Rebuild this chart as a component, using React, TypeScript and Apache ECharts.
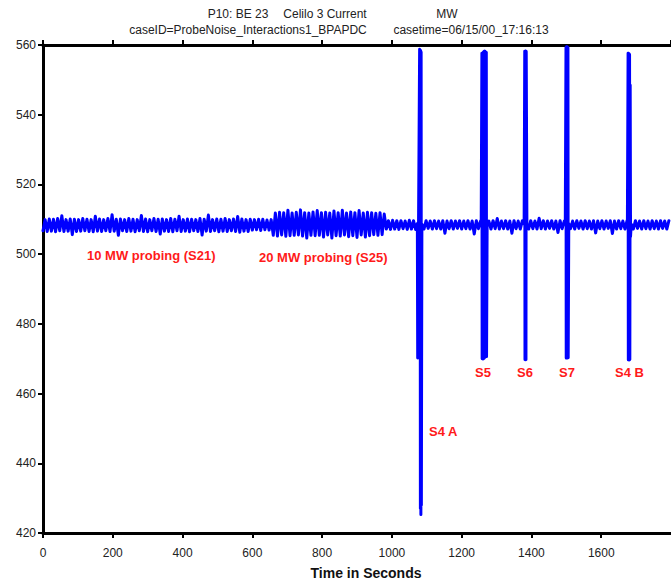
import React, { useEffect, useRef } from "react";
import * as echarts from "echarts";

// ---- data (MW vs time in seconds) ----
const BAND_STEP = 6; // seconds between band samples

const bandStarts = [0, 600, 660, 984, 1080];

const bandA = [
  506.7, 509.9, 506.5, 510.1, 506.6, 510.0, 506.4, 510.2, 506.7, 511.0,
  506.5, 509.9, 506.6, 510.1, 505.6, 510.0, 506.5, 509.9, 506.6, 510.2,
  506.7, 510.0, 506.5, 509.9, 506.4, 510.9, 506.6, 510.1, 506.5, 509.9,
  506.7, 510.2, 506.5, 511.3, 506.6, 510.0, 505.4, 510.1, 506.7, 509.9,
  506.5, 510.2, 506.6, 510.0, 506.4, 509.9, 506.7, 511.1, 506.5, 510.1,
  506.4, 509.9, 506.7, 510.2, 506.5, 510.0, 505.8, 510.1, 506.6, 509.9,
  506.5, 510.2, 506.4, 510.0, 506.7, 510.9, 506.5, 509.9, 506.6, 510.1,
  506.4, 510.0, 506.7, 509.9, 506.5, 510.2, 505.5, 510.0, 506.6, 511.2,
  506.5, 509.9, 506.7, 510.1, 506.4, 510.0, 506.6, 510.2, 506.5, 509.9,
  506.7, 510.1, 506.5, 510.8, 506.3, 510.1, 506.6, 509.9, 506.5, 510.0,
];

const bandB = [506.9, 509.9, 507.0, 510.0, 506.8, 510.0, 507.0, 509.8, 506.9, 509.9];

const bandS25 = [
  505.4, 511.8, 505.2, 512.0, 505.5, 511.9, 505.1, 512.6, 505.3, 511.8,
  505.4, 512.0, 505.5, 512.7, 505.2, 511.9, 504.6, 511.8, 505.4, 512.1,
  505.3, 512.5, 505.4, 511.9, 504.9, 512.0, 505.5, 511.8, 504.6, 512.4,
  505.3, 511.9, 505.2, 512.6, 505.5, 511.8, 505.0, 512.1, 505.3, 511.9,
  504.8, 512.5, 505.5, 511.8, 504.9, 512.0, 505.3, 511.9, 505.6, 511.7,
  505.4, 511.9, 505.6, 511.5,
];

const bandC = [
  507.2, 509.6, 507.1, 509.7, 507.2, 509.6, 507.1, 509.6,
  507.3, 509.5, 507.1, 509.7, 507.2, 509.6, 507.1, 509.6,
];

const bandD = [
  507.3, 509.5, 507.2, 509.6, 507.4, 509.5, 507.2, 509.6, 507.3, 509.5,
  507.2, 509.6, 506.0, 509.5, 507.3, 509.6, 507.2, 509.5, 507.4, 509.6,
  507.2, 509.5, 507.3, 509.6, 507.2, 509.5, 505.8, 509.6, 507.3, 509.5,
  507.2, 509.6, 507.4, 509.5, 507.2, 509.6, 507.3, 510.2, 507.2, 509.5,
  507.3, 509.6, 507.2, 509.5, 506.0, 509.6, 507.3, 509.5, 507.2, 509.6,
  507.4, 509.5, 507.2, 509.6, 507.3, 509.5, 507.2, 510.3, 507.3, 509.6,
  507.2, 509.5, 507.4, 509.6, 507.2, 509.5, 506.2, 509.6, 507.3, 509.5,
  507.2, 509.6, 507.3, 509.5, 507.2, 509.6, 507.4, 509.5, 507.2, 509.6,
  507.3, 509.5, 507.2, 509.6, 506.1, 509.5, 507.3, 509.6, 507.2, 509.5,
  507.4, 509.6, 505.9, 509.5, 507.2, 509.6, 507.3, 509.5, 507.2, 509.6,
  507.3, 509.5, 507.2, 509.6, 507.4, 509.5, 507.2, 509.6, 507.3, 509.5,
  507.2, 509.6, 507.3, 509.5, 507.2, 509.6, 507.4, 509.5, 507.2, 509.6,
];

const bandValues = [bandA, bandB, bandS25, bandC, bandD];

// switching events (time in s, MW)
const s4aTimes = [1073, 1074, 1079.5, 1080.3, 1081, 1081.7, 1082.4, 1083.1, 1083.8, 1084.5, 1085.2, 1086];
const s4aValues = [508.8, 470.2, 558.8, 470.0, 558.6, 427.0, 558.4, 425.3, 558.0, 428.0, 470.0, 508.6];

const s5Times = [1256, 1258, 1258.7, 1259.4, 1260.1, 1260.8, 1261.5, 1262.2, 1262.9, 1263.6, 1264.3, 1265, 1265.7, 1266.4, 1267.1, 1267.8, 1268.5, 1269.2, 1269.9, 1270.6, 1271.3, 1273];
const s5Values = [508.5, 557.6, 470.0, 557.7, 470.1, 557.8, 469.9, 558.0, 470.0, 558.1, 470.2, 558.2, 470.3, 558.2, 470.5, 558.1, 470.6, 558.0, 470.6, 557.9, 470.6, 508.7];

const s6Times = [1379, 1380.8, 1381.5, 1382.2, 1382.9, 1383.6, 1384.3, 1385, 1387];
const s6Values = [508.6, 558.2, 469.8, 558.3, 469.7, 558.3, 469.8, 558.1, 508.5];

const s7Times = [1497, 1499, 1499.7, 1500.4, 1501.1, 1501.8, 1502.5, 1503.2, 1503.9, 1504.6, 1505.3, 1507];
const s7Values = [508.6, 559.3, 470.2, 559.5, 470.3, 559.5, 470.2, 559.4, 470.4, 559.3, 470.3, 508.7];

const s4bTimes = [1675, 1677, 1677.7, 1678.4, 1679.1, 1679.8, 1680.5, 1681.2, 1682, 1683, 1684, 1686];
const s4bValues = [508.5, 557.6, 469.7, 557.6, 469.6, 557.5, 469.6, 557.3, 469.8, 548.5, 505.0, 508.6];

const spikeTimes = [s4aTimes, s5Times, s6Times, s7Times, s4bTimes];
const spikeValues = [s4aValues, s5Values, s6Values, s7Values, s4bValues];

const xTicks = { min: 0, max: 1800, interval: 200 };
const yTicks = { min: 420, max: 560, interval: 20 };

const titleLine1 = ["P10: BE 23", "Celilo 3 Current", "MW"];
const titleLine2 = ["caseID=ProbeNoise_Interactions1_BPAPDC", "casetime=06/15/00_17:16:13"];
const xAxisTitle = "Time in Seconds";
const notes = ["10 MW probing (S21)", "20 MW probing (S25)", "S4 A", "S5", "S6", "S7", "S4 B"];

function buildSeries(): [number, number][] {
  const windows = spikeTimes.map((t) => [t[0], t[t.length - 1]]);
  const pts: [number, number][] = [];
  bandValues.forEach((vals, si) => {
    vals.forEach((v, i) => {
      const t = bandStarts[si] + i * BAND_STEP;
      if (!windows.some(([a, b]) => t >= a && t <= b)) pts.push([t, v]);
    });
  });
  spikeTimes.forEach((ts, k) => ts.forEach((t, i) => pts.push([t, spikeValues[k][i]])));
  pts.sort((a, b) => a[0] - b[0]);
  return pts;
}

export default function App() {
  const ref = useRef<HTMLDivElement>(null);
  useEffect(() => {
    if (!ref.current) return;
    const chart = echarts.init(ref.current, undefined, { renderer: "svg" });
    const font = "'Liberation Sans', Arial, sans-serif";
    const axisLine = { show: true, onZero: false, lineStyle: { color: "#000", width: 3 } };
    const axisTick = { show: true, length: 5, lineStyle: { color: "#000", width: 2 } };
    const red = "#ff1a1a";
    const txt = (text: string, x: number, y: number, style: any = {}) => ({
      type: "text",
      x,
      y,
      style: { text, fontFamily: font, fontSize: 12, fill: "#222", textVerticalAlign: "middle", ...style },
    });
    const note = (text: string, x: number, y: number) =>
      txt(text, x, y, { fontSize: 13, fontWeight: "bold", fill: red });

    chart.setOption({
      animation: false,
      backgroundColor: "#fff",
      grid: { left: 43, top: 45, width: 630, height: 488, containLabel: false },
      xAxis: [
        {
          type: "value",
          position: "bottom",
          ...xTicks,
          axisLine,
          axisTick,
          splitLine: { show: false },
          axisLabel: {
            color: "#222",
            fontFamily: font,
            fontSize: 12,
            margin: 14,
            showMaxLabel: false,
            formatter: (v: number) => String(v),
          },
        },
        {
          type: "value",
          position: "top",
          ...xTicks,
          axisLine,
          axisTick,
          splitLine: { show: false },
          axisLabel: { show: false },
        },
      ],
      yAxis: {
        type: "value",
        ...yTicks,
        axisLine,
        axisTick,
        splitLine: { show: false },
        axisLabel: { color: "#222", fontFamily: font, fontSize: 12, margin: 7 },
      },
      series: [
        {
          type: "line",
          xAxisIndex: 0,
          data: buildSeries(),
          showSymbol: false,
          symbol: "none",
          lineStyle: { color: "#0000ff", width: 3, join: "round", cap: "round" },
          clip: true,
          z: 1,
        },
      ],
      graphic: [
        txt(titleLine1[0], 238, 14, { textAlign: "center" }),
        txt(titleLine1[1], 325, 14, { textAlign: "center" }),
        txt(titleLine1[2], 447, 14, { textAlign: "center" }),
        txt(titleLine2[0], 248, 30, { textAlign: "center" }),
        txt(titleLine2[1], 471, 30, { textAlign: "center" }),
        txt(xAxisTitle, 366, 573, { fontSize: 14, fontWeight: "bold", fill: "#111", textAlign: "center" }),
        note(notes[0], 87, 255),
        note(notes[1], 259, 257),
        note(notes[2], 429, 431),
        note(notes[3], 475, 372),
        note(notes[4], 517, 372),
        note(notes[5], 559, 372),
        note(notes[6], 615, 372),
      ],
    });
    return () => chart.dispose();
  }, []);
  return (
    <div
      ref={ref}
      style={{ position: "absolute", left: 0, top: 0, width: 671, height: 586, overflow: "hidden" }}
    />
  );
}
